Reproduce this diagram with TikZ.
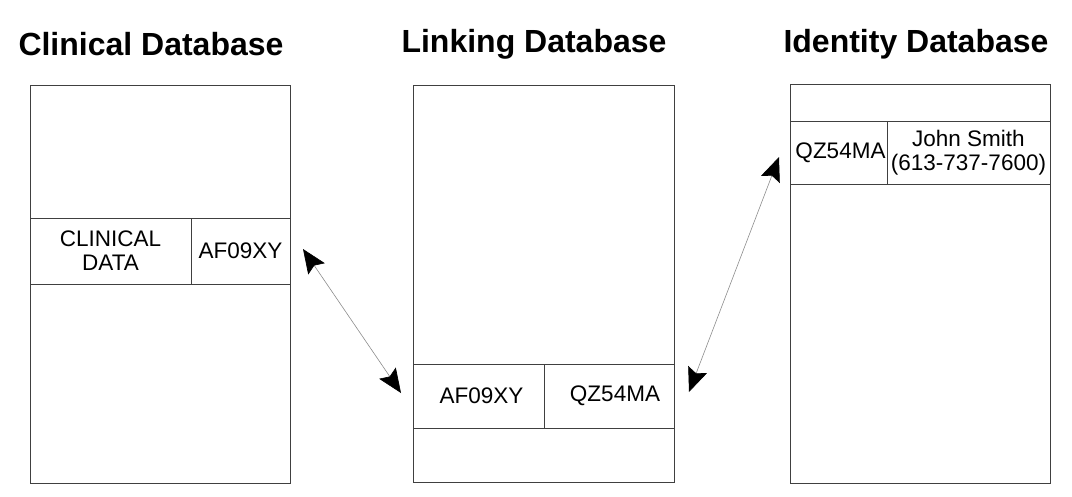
\documentclass[tikz,border=0pt]{standalone}
\usepackage{fontspec}
\setmainfont{Liberation Sans}
\usetikzlibrary{arrows.meta}
\begin{document}
\begin{tikzpicture}[
  x=1pt,y=-1pt,
  title/.style={font=\fontsize{32}{36}\selectfont\bfseries},
  dbbox/.style={shape=rectangle,draw=black!75,line width=0.9pt,inner sep=0pt},
  cell/.style={shape=rectangle,draw=black!75,line width=0.9pt,inner sep=0pt,
    font=\fontsize{22.5}{24}\selectfont,align=center},
  link/.style={draw=black!45,line width=0.6pt,
    {Stealth[black,length=24pt,width=20pt,inset=4pt]}-{Stealth[black,length=24pt,width=20pt,inset=4pt]}}
]
  \useasboundingbox (0,0) rectangle (1072,496);

  \node[title] (tclin) at (151,44) {Clinical Database};
  \node[title] (tlink) at (534,44) {Linking Database};
  \node[title] (tiden) at (916,44) {Identity Database};

  \node[dbbox,minimum width=260pt,minimum height=398pt] (clinical) at (160,284) {};
  \node[dbbox,minimum width=261pt,minimum height=397pt] (linking)  at (543.5,283.5) {};
  \node[dbbox,minimum width=260pt,minimum height=399pt] (identity) at (920,283.5) {};

  \node[cell,minimum width=161pt,minimum height=66pt] (clindata) at (110.5,251) {CLINICAL\\DATA};
  \node[cell,minimum width=99pt,minimum height=66pt]  (clinkey)  at (240.5,251) {AF09XY};

  \node[cell,minimum width=131pt,minimum height=64pt] (linkA) at (478.5,396) {\hspace{6pt}AF09XY};
  \node[cell,minimum width=130pt,minimum height=64pt] (linkQ) at (609,396) {\hspace{12pt}QZ54MA};

  \node[cell,minimum width=97pt,minimum height=63pt]  (idkey)  at (838.5,152.5) {\hspace{4pt}QZ54MA};
  \node[cell,minimum width=163pt,minimum height=63pt] (idname) at (968.5,152.5) {John Smith\\(613-737-7600)};

  \coordinate (a1) at (303,249);
  \coordinate (a2) at (401,393);
  \coordinate (b1) at (689,392);
  \coordinate (b2) at (779,157);

  \draw[link] (a1) -- (a2);
  \draw[link] (b1) -- (b2);
\end{tikzpicture}
\end{document}
